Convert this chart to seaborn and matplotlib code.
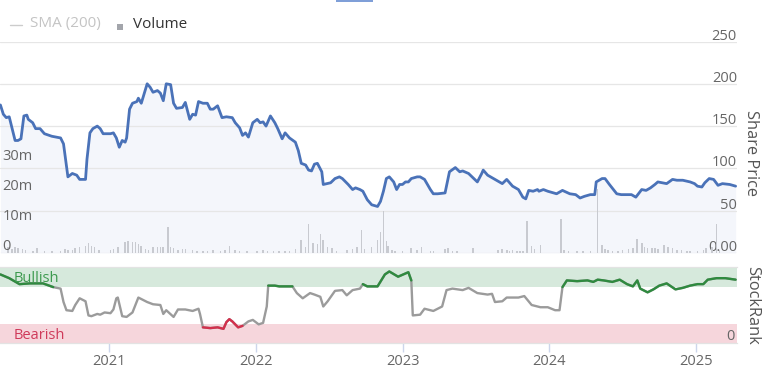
import matplotlib
matplotlib.use("Agg")
import matplotlib.pyplot as plt
import seaborn as sns
from matplotlib.patches import Rectangle
from matplotlib.lines import Line2D

# ---------------- data ----------------
price_years = [2020.26, 2020.28, 2020.30, 2020.32, 2020.34, 2020.36, 2020.38, 2020.40, 2020.42, 2020.44,
               2020.45, 2020.48, 2020.50, 2020.53, 2020.56, 2020.61, 2020.67, 2020.69, 2020.71, 2020.72,
               2020.75, 2020.78, 2020.80, 2020.84, 2020.85, 2020.87, 2020.89, 2020.92, 2020.94, 2020.96,
               2021.01, 2021.03, 2021.05, 2021.07, 2021.09, 2021.11, 2021.12, 2021.14, 2021.16, 2021.19,
               2021.20, 2021.22, 2021.26, 2021.28, 2021.30, 2021.33, 2021.35, 2021.37, 2021.39, 2021.42,
               2021.44, 2021.46, 2021.50, 2021.52, 2021.55, 2021.57, 2021.59, 2021.61, 2021.64, 2021.67,
               2021.69, 2021.71, 2021.74, 2021.77, 2021.80, 2021.84, 2021.86, 2021.89, 2021.91, 2021.93,
               2021.95, 2021.98, 2022.01, 2022.03, 2022.05, 2022.07, 2022.10, 2022.13, 2022.15, 2022.18,
               2022.20, 2022.23, 2022.27, 2022.29, 2022.31, 2022.34, 2022.36, 2022.38, 2022.40, 2022.42,
               2022.45, 2022.46, 2022.51, 2022.54, 2022.57, 2022.59, 2022.63, 2022.66, 2022.68, 2022.71,
               2022.73, 2022.76, 2022.79, 2022.83, 2022.85, 2022.87, 2022.89, 2022.91, 2022.94, 2022.96,
               2022.98, 2023.00, 2023.02, 2023.04, 2023.06, 2023.10, 2023.12, 2023.15, 2023.19, 2023.21,
               2023.24, 2023.29, 2023.32, 2023.36, 2023.39, 2023.41, 2023.45, 2023.48, 2023.51, 2023.54,
               2023.55, 2023.58, 2023.60, 2023.63, 2023.68, 2023.71, 2023.75, 2023.79, 2023.82, 2023.84,
               2023.86, 2023.89, 2023.92, 2023.93, 2023.96, 2023.99, 2024.05, 2024.09, 2024.14, 2024.18,
               2024.21, 2024.24, 2024.28, 2024.31, 2024.32, 2024.36, 2024.38, 2024.41, 2024.46, 2024.49,
               2024.53, 2024.56, 2024.59, 2024.63, 2024.66, 2024.69, 2024.72, 2024.74, 2024.77, 2024.80,
               2024.84, 2024.87, 2024.91, 2024.96, 2024.99, 2025.01, 2025.04, 2025.06, 2025.09, 2025.12,
               2025.15, 2025.18, 2025.23, 2025.27]
price_values = [175, 164, 160, 161, 147, 133, 133, 135, 162, 163,
                158, 154, 147, 147, 141, 138, 136, 129, 103, 90,
                94, 92, 87, 87, 111, 142, 147, 150, 147, 141,
                141, 142, 136, 125, 133, 131, 136, 170, 177, 179,
                183, 177, 200, 196, 190, 192, 189, 180, 200, 199,
                177, 171, 172, 178, 158, 164, 163, 179, 177, 177,
                170, 170, 174, 160, 161, 160, 154, 148, 139, 142,
                137, 154, 158, 154, 155, 150, 162, 154, 147, 135,
                142, 136, 131, 121, 106, 104, 98, 97, 105, 106,
                96, 81, 83, 88, 90, 88, 81, 75, 77, 75,
                73, 63, 57, 55, 61, 73, 88, 90, 84, 75,
                81, 81, 84, 84, 88, 90, 90, 87, 75, 70,
                70, 71, 96, 101, 96, 97, 94, 89, 84, 94,
                98, 92, 90, 87, 82, 87, 79, 75, 66, 64,
                74, 73, 75, 73, 75, 73, 70, 74, 70, 69,
                65, 67, 69, 69, 84, 88, 88, 81, 70, 69,
                69, 69, 66, 75, 74, 77, 81, 84, 83, 82,
                87, 86, 86, 84, 82, 79, 78, 83, 88, 87,
                80, 82, 81, 79]

volume_years = [2020.31, 2020.34, 2020.36, 2020.38, 2020.41, 2020.43, 2020.48, 2020.51, 2020.56, 2020.61,
                2020.67, 2020.70, 2020.72, 2020.75, 2020.77, 2020.80, 2020.84, 2020.86, 2020.88, 2020.90,
                2020.93, 2021.01, 2021.03, 2021.06, 2021.11, 2021.13, 2021.16, 2021.18, 2021.20, 2021.22,
                2021.25, 2021.27, 2021.30, 2021.33, 2021.35, 2021.37, 2021.40, 2021.42, 2021.44, 2021.47,
                2021.50, 2021.52, 2021.57, 2021.60, 2021.64, 2021.67, 2021.71, 2021.76, 2021.79, 2021.82,
                2021.86, 2021.89, 2021.94, 2022.01, 2022.05, 2022.08, 2022.12, 2022.16, 2022.20, 2022.23,
                2022.27, 2022.31, 2022.34, 2022.36, 2022.39, 2022.42, 2022.44, 2022.46, 2022.49, 2022.52,
                2022.55, 2022.62, 2022.66, 2022.69, 2022.72, 2022.74, 2022.79, 2022.83, 2022.85, 2022.87,
                2022.89, 2022.90, 2022.93, 2022.95, 2023.00, 2023.06, 2023.10, 2023.13, 2023.19, 2023.21,
                2023.29, 2023.31, 2023.34, 2023.37, 2023.48, 2023.65, 2023.68, 2023.71, 2023.73, 2023.75,
                2023.78, 2023.80, 2023.82, 2023.85, 2023.88, 2023.90, 2023.94, 2024.08, 2024.10, 2024.13,
                2024.19, 2024.23, 2024.28, 2024.33, 2024.36, 2024.38, 2024.40, 2024.43, 2024.47, 2024.50,
                2024.54, 2024.57, 2024.60, 2024.63, 2024.65, 2024.67, 2024.70, 2024.72, 2024.74, 2024.78,
                2024.81, 2024.84, 2024.87, 2024.90, 2024.94, 2024.96, 2025.01, 2025.05, 2025.07, 2025.11,
                2025.14, 2025.16]
volume_millions = [1.9, 1.3, 2.1, 1.6, 1.3, 1.1, 0.8, 1.6, 0.8, 0.8,
                   0.6, 1.3, 1.0, 1.1, 1.6, 1.9, 2.4, 3.2, 2.4, 2.1,
                   1.0, 1.0, 1.2, 1.9, 3.6, 4.1, 3.6, 3.8, 3.0, 2.4,
                   1.3, 1.0, 1.9, 1.9, 2.1, 1.9, 8.6, 1.9, 1.7, 1.0,
                   1.3, 1.3, 1.0, 0.8, 0.8, 0.8, 1.0, 0.8, 1.0, 2.4,
                   1.0, 0.8, 0.8, 0.8, 1.0, 0.8, 0.8, 0.8, 0.6, 0.8,
                   1.3, 4.3, 1.9, 9.7, 3.2, 3.0, 6.3, 4.3, 1.9, 1.6,
                   0.8, 1.0, 1.3, 1.9, 7.7, 1.3, 1.9, 4.3, 7.1, 13.9,
                   4.1, 2.4, 1.1, 0.8, 0.6, 1.7, 1.0, 2.1, 0.8, 0.8,
                   1.3, 1.6, 0.8, 0.8, 1.6, 1.0, 1.3, 1.0, 0.8, 1.0,
                   0.8, 0.8, 0.8, 10.6, 2.4, 1.3, 2.7, 11.3, 1.0, 0.8,
                   0.6, 0.6, 0.8, 21.5, 2.7, 1.3, 1.0, 0.8, 0.8, 1.0,
                   1.3, 1.6, 4.7, 3.2, 2.1, 1.7, 1.6, 1.7, 1.3, 2.7,
                   1.9, 1.6, 1.0, 1.0, 0.8, 0.8, 0.8, 1.0, 1.6, 1.9,
                   9.7, 1.0]

rank_years = [2020.26, 2020.32, 2020.39, 2020.46, 2020.55, 2020.62, 2020.67, 2020.69, 2020.71, 2020.75,
              2020.77, 2020.80, 2020.84, 2020.86, 2020.88, 2020.92, 2020.94, 2020.97, 2021.01, 2021.03,
              2021.05, 2021.06, 2021.09, 2021.12, 2021.16, 2021.20, 2021.26, 2021.30, 2021.35, 2021.37,
              2021.39, 2021.44, 2021.47, 2021.52, 2021.57, 2021.61, 2021.62, 2021.64, 2021.69, 2021.74,
              2021.78, 2021.80, 2021.82, 2021.84, 2021.88, 2021.91, 2021.95, 2021.98, 2022.02, 2022.05,
              2022.075, 2022.085, 2022.13, 2022.16, 2022.25, 2022.28, 2022.32, 2022.37, 2022.40, 2022.44,
              2022.46, 2022.49, 2022.54, 2022.59, 2022.62, 2022.66, 2022.71, 2022.73, 2022.76, 2022.83,
              2022.88, 2022.91, 2022.97, 2023.04, 2023.06, 2023.07, 2023.12, 2023.15, 2023.21, 2023.27,
              2023.30, 2023.34, 2023.41, 2023.45, 2023.51, 2023.58, 2023.61, 2023.63, 2023.68, 2023.71,
              2023.79, 2023.83, 2023.88, 2023.94, 2023.99, 2024.04, 2024.07, 2024.09, 2024.12, 2024.19,
              2024.26, 2024.30, 2024.33, 2024.37, 2024.43, 2024.48, 2024.53, 2024.57, 2024.60, 2024.62,
              2024.67, 2024.71, 2024.75, 2024.80, 2024.86, 2024.91, 2024.96, 2025.01, 2025.05, 2025.08,
              2025.14, 2025.20, 2025.27]
rank_values = [92, 87, 79, 80, 80, 75, 73, 55, 44, 43,
               51, 60, 56, 37, 36, 39, 38, 41, 40, 45,
               60, 61, 36, 35, 41, 61, 55, 52, 51, 39,
               44, 35, 45, 45, 43, 46, 39, 21, 20, 21,
               19, 28, 32, 29, 21, 23, 29, 31, 25, 27,
               49, 77, 77, 76, 76, 67, 60, 67, 65, 62,
               49, 56, 70, 71, 64, 71, 73, 79, 76, 76,
               92, 96, 89, 95, 84, 37, 38, 46, 43, 49,
               71, 73, 71, 74, 67, 65, 66, 55, 56, 61,
               61, 63, 51, 48, 48, 44, 44, 75, 84, 83,
               84, 82, 85, 84, 82, 85, 79, 76, 84, 73,
               68, 72, 77, 80, 72, 74, 77, 79, 79, 85,
               87, 87, 85]
# B = bullish colour, N = neutral, R = bearish colour
rank_zones = ["B", "B", "B", "B", "B", "B", "N", "N", "N", "N",
              "N", "N", "N", "N", "N", "N", "N", "N", "N", "N",
              "N", "N", "N", "N", "N", "N", "N", "N", "N", "N",
              "N", "N", "N", "N", "N", "N", "N", "R", "R", "R",
              "R", "R", "R", "R", "R", "R", "N", "N", "N", "N",
              "N", "B", "B", "B", "B", "N", "N", "N", "N", "N",
              "N", "N", "N", "N", "N", "N", "N", "B", "B", "B",
              "B", "B", "B", "B", "B", "N", "N", "N", "N", "N",
              "N", "N", "N", "N", "N", "N", "N", "N", "N", "N",
              "N", "N", "N", "N", "N", "N", "N", "B", "B", "B",
              "B", "B", "B", "B", "B", "B", "B", "B", "B", "B",
              "B", "B", "B", "B", "B", "B", "B", "B", "B", "B",
              "B", "B", "B"]

year_ticks = [2021, 2022, 2023, 2024, 2025]
year_labels = ["2021", "2022", "2023", "2024", "2025"]
price_ticks = [0, 50, 100, 150, 200, 250]
price_tick_labels = ["0.00", "50", "100", "150", "200", "250"]
volume_ticks = [0, 10, 20, 30]
volume_tick_labels = ["0", "10m", "20m", "30m"]
rank_ticks = [0]
rank_tick_labels = ["0"]

# ---------------- style ----------------
sns.set_theme(style="white")
plt.rcParams["font.family"] = ["Open Sans", "DejaVu Sans"]

W, H = 775, 369
fig = plt.figure(figsize=(W / 100, H / 100), dpi=100)


def box(l, t, r, b):
    return [l / W, (H - b) / H, (r - l) / W, (b - t) / H]


XMIN, XMAX = 2020.2572, 2025.2794
LABEL_C = "#666666"

# price panel
ax_p = fig.add_axes(box(0, 41.5, 737, 253))
ax_p.set_xlim(XMIN, XMAX)
ax_p.set_ylim(0, 250)
ax_p.fill_between(price_years, price_values, 0, color="#f4f6fb", lw=0, zorder=0.5)
sns.lineplot(x=price_years, y=price_values, ax=ax_p, color="#4a72b8", lw=2.0, zorder=3)
ax_p.set_yticks(price_ticks)
ax_p.set_xticks([])
ax_p.grid(axis="y", color="#e6e6e6", lw=0.9)
ax_p.tick_params(left=False, right=False, labelleft=False, labelright=False)
for s in ax_p.spines.values():
    s.set_visible(False)
ax_p.set_xlabel("")
ax_p.set_ylabel("")
for v, lab in zip(price_ticks, price_tick_labels):
    ax_p.annotate(lab, xy=(1.0, v), xycoords=("axes fraction", "data"), xytext=(0, 2),
                  textcoords="offset pixels", ha="right", va="baseline", fontsize=10.5,
                  color=LABEL_C, zorder=5)

# volume (secondary axis)
ax_v = ax_p.twinx()
ax_v.set_ylim(0, 70.5)
ax_v.bar(volume_years, volume_millions, width=0.011, color="#c8cad0", lw=0, zorder=2)
ax_v.set_yticks([])
ax_v.set_xlim(XMIN, XMAX)
for s in ax_v.spines.values():
    s.set_visible(False)
for v, lab in zip(volume_ticks, volume_tick_labels):
    ax_v.annotate(lab, xy=(0.003, v), xycoords=("axes fraction", "data"), xytext=(0, 3),
                  textcoords="offset pixels", ha="left", va="baseline", fontsize=10.5,
                  color=LABEL_C)

# stock rank panel
ax_r = fig.add_axes(box(0, 267, 737, 343))
ax_r.set_xlim(XMIN, XMAX)
ax_r.set_ylim(0, 102)
ax_r.axhspan(75, 100, color="#d6e9dc", lw=0, zorder=0)
ax_r.axhspan(0, 25, color="#f6d6dc", lw=0, zorder=0)
sns.lineplot(x=rank_years, y=rank_values, ax=ax_r, color="#9b9b9b", lw=1.7, zorder=2)

zone_colors = {"B": "#2f8a3f", "R": "#d3304c"}
runs = []
start = 0
for i in range(1, len(rank_zones) + 1):
    if i == len(rank_zones) or rank_zones[i] != rank_zones[start]:
        runs.append((rank_zones[start], start, i))
        start = i
for z, a, b in runs:
    if z in zone_colors and b - a >= 2:
        sns.lineplot(x=rank_years[a:b], y=rank_values[a:b], ax=ax_r,
                     color=zone_colors[z], lw=1.7, zorder=3)

ax_r.set_xticks(year_ticks)
ax_r.set_xticklabels(year_labels)
ax_r.set_yticks([])
ax_r.tick_params(axis="x", bottom=True, length=6.5, width=1, color="#ccd6eb",
                 labelsize=10.5, labelcolor=LABEL_C, pad=1.5)
ax_r.set_xlabel("")
ax_r.set_ylabel("")
for k, s in ax_r.spines.items():
    s.set_visible(k in ("top", "bottom"))
    s.set_color("#e3e3e3")
    s.set_linewidth(0.9)
ax_r.annotate("Bullish", xy=(14 / 737, 86), xycoords=("axes fraction", "data"),
              ha="left", va="center", fontsize=10.5, color="#3c9a4e")
ax_r.annotate("Bearish", xy=(14 / 737, 9.5), xycoords=("axes fraction", "data"),
              ha="left", va="center", fontsize=10.5, color="#cf3a5a")
for v, lab in zip(rank_ticks, rank_tick_labels):
    ax_r.annotate(lab, xy=(1.0, v), xycoords=("axes fraction", "data"), xytext=(-2, 3),
                  textcoords="offset pixels", ha="right", va="baseline", fontsize=10.5,
                  color=LABEL_C)

# axis titles on the right
fig.text(751 / W, 1 - 153 / H, "Share Price", rotation=270, ha="center", va="center",
         fontsize=11.8, color="#555555")
fig.text(752 / W, 1 - 305 / H, "StockRank", rotation=270, ha="center", va="center",
         fontsize=11.8, color="#555555")

# legend
fig.add_artist(Line2D([10 / W, 22 / W], [1 - 25 / H, 1 - 25 / H], color="#cccccc", lw=1))
fig.text(30 / W, 1 - 24 / H, "SMA (200)", ha="left", va="center", fontsize=11, color="#c4c4c4")
fig.add_artist(Rectangle((117 / W, 1 - 30 / H), 6 / W, 6 / H, transform=fig.transFigure,
                         color="#a3a5ab", lw=0))
fig.text(133 / W, 1 - 24 / H, "Volume", ha="left", va="center", fontsize=11, color="#333333")

# small range selector tab at the top
fig.add_artist(Rectangle((336 / W, 1 - 1.5 / H), 37 / W, 1.5 / H, transform=fig.transFigure,
                         color="#7f9fd8", lw=0))

fig.savefig("out.png", dpi=100)
